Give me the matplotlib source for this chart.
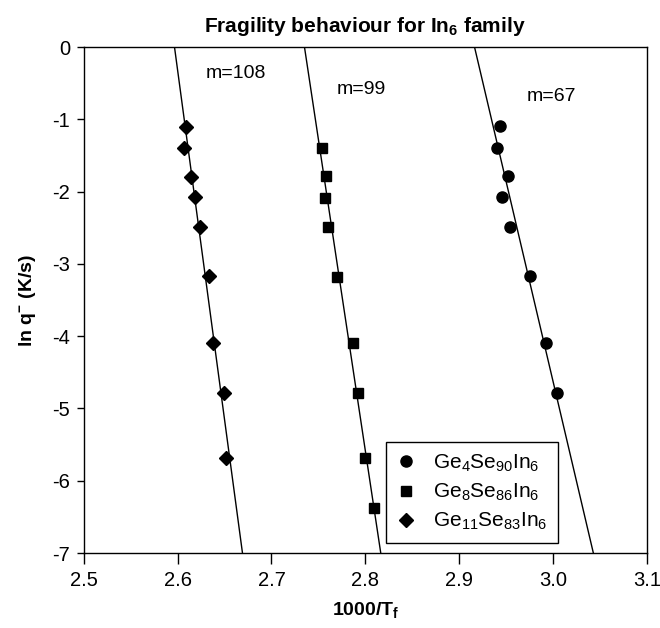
import numpy as np
import matplotlib
matplotlib.use("Agg")
import matplotlib.pyplot as plt

plt.rcParams['font.family'] = ['Liberation Sans', 'DejaVu Sans']
plt.rcParams['mathtext.fontset'] = 'custom'
plt.rcParams['mathtext.rm'] = 'Liberation Sans'
plt.rcParams['mathtext.it'] = 'Liberation Sans'
plt.rcParams['mathtext.bf'] = 'Liberation Sans:bold'

# ---- data ----
# Ge4Se90In6 (circles)
x_ge4 = [2.944, 2.940, 2.952, 2.946, 2.954, 2.976, 2.993, 3.004]
y_ge4 = [-1.09, -1.39, -1.79, -2.08, -2.49, -3.17, -4.09, -4.78]
# Ge8Se86In6 (squares)
x_ge8 = [2.754, 2.758, 2.757, 2.760, 2.770, 2.787, 2.792, 2.800, 2.809]
y_ge8 = [-1.40, -1.79, -2.09, -2.49, -3.18, -4.09, -4.79, -5.69, -6.38]
# Ge11Se83In6 (diamonds)
x_ge11 = [2.609, 2.607, 2.614, 2.619, 2.624, 2.633, 2.638, 2.649, 2.652]
y_ge11 = [-1.10, -1.40, -1.80, -2.07, -2.49, -3.17, -4.09, -4.79, -5.68]

labels = [r'Ge$_4$Se$_{90}$In$_6$', r'Ge$_8$Se$_{86}$In$_6$', r'Ge$_{11}$Se$_{83}$In$_6$']
fragility = ['m=67', 'm=99', 'm=108']
m_pos = [(2.998, -0.69), (2.796, -0.59), (2.662, -0.36)]

xticks = [2.5, 2.6, 2.7, 2.8, 2.9, 3.0, 3.1]
yticks = [0, -1, -2, -3, -4, -5, -6, -7]

fig = plt.figure(figsize=(6.6, 6.28), dpi=100)
ax = fig.add_axes([0.127, 0.1194, 0.853, 0.8056])

series = [(x_ge4, y_ge4, 'o', 8), (x_ge8, y_ge8, 's', 7.5), (x_ge11, y_ge11, 'D', 7.5)]
yy = np.array([0.5, -7.5])
for (xs, ys, mk, ms), lab in zip(series, labels):
    # linear fit x = a*y + b, drawn over the full y range
    a, b = np.polyfit(ys, xs, 1)
    ax.plot(a * yy + b, yy, color='black', lw=1.0, zorder=1)
    ax.plot(xs, ys, linestyle='none', marker=mk, ms=ms, color='black', label=lab, zorder=2)

for txt, (tx, ty) in zip(fragility, m_pos):
    ax.text(tx, ty, txt, fontsize=14, ha='center', va='center')

ax.set_xlim(2.5, 3.1)
ax.set_ylim(-7, 0)
ax.set_xticks(xticks)
ax.set_xticklabels(['%.1f' % v for v in xticks])
ax.set_yticks(yticks)
ax.set_yticklabels(['%d' % v if v == 0 else '-%d' % abs(v) for v in yticks])
ax.tick_params(axis='x', direction='out', length=8, width=1, labelsize=14.5, pad=5)
ax.tick_params(axis='y', direction='out', length=5, width=1, labelsize=14.5, pad=5)
for sp in ax.spines.values():
    sp.set_linewidth(1.0)

ax.set_title(r'Fragility behaviour for In$_{\mathbf{6}}$ family', fontsize=15,
             fontweight='bold', pad=11)
ax.set_xlabel(r'1000/T$_{\mathbf{f}}$', fontsize=14, fontweight='bold', labelpad=7)
ax.set_ylabel(r'ln q$^{\mathbf{-}}$ (K/s)', fontsize=14, fontweight='bold', labelpad=10)

leg = ax.legend(loc='lower left', bbox_to_anchor=(0.536, 0.02), fontsize=15,
                frameon=True, fancybox=False, edgecolor='black', framealpha=1,
                handlelength=1.0, handletextpad=0.8, borderpad=0.5, labelspacing=0.38,
                borderaxespad=0)
leg.get_frame().set_linewidth(1.0)

fig.savefig('out.png', dpi=100)
